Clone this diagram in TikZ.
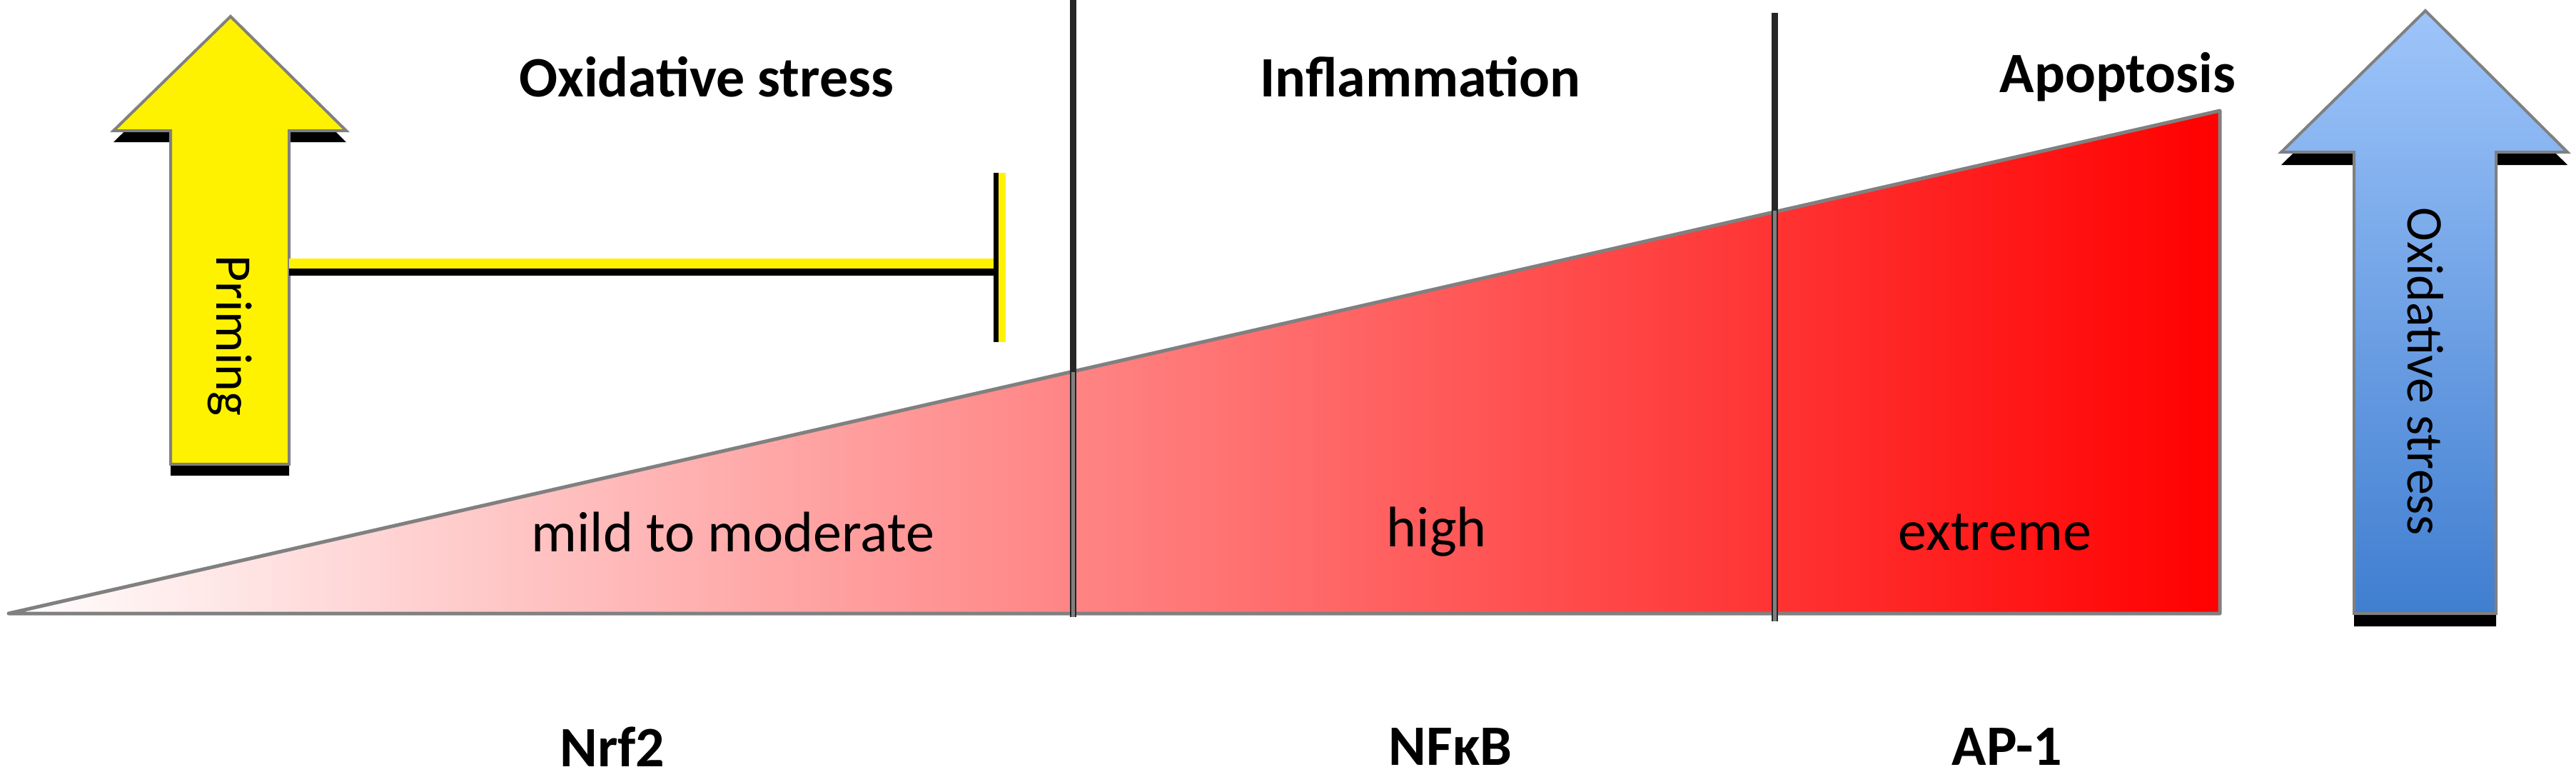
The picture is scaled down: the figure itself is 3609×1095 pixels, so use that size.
\documentclass[tikz,border=0pt]{standalone}
\usepackage{fontspec}
\setmainfont{Carlito}
\begin{document}
\begin{tikzpicture}[x=1pt,y=-1pt,
  lbl/.style={font=\fontsize{80}{90}\selectfont\bfseries,inner sep=0pt},
  lvl/.style={font=\fontsize{80}{90}\selectfont,inner sep=0pt},
  arrtxt/.style={font=\fontsize{72}{80}\selectfont,inner sep=0pt,rotate=-90},
  outl/.style={draw=gray,line width=4pt}]
\useasboundingbox (0,0) rectangle (3609,1095);
% triangle
\shade[left color=white,right color=red] (12,859) -- (3110,859) -- (3110,155) -- cycle;
\draw[gray,line width=5pt,line join=round] (12,859) -- (3110,859) -- (3110,155) -- cycle;
% dividers
\coordinate (d1t) at (1503,0); \coordinate (d1b) at (1503,864);
\coordinate (d2t) at (2486,18); \coordinate (d2b) at (2486,870);
\draw[black!85,line width=9pt] (d1t) -- (d1b);
\draw[gray,line width=5pt] (1503,521) -- (d1b);
\draw[black!85,line width=9pt] (d2t) -- (d2b);
\draw[gray,line width=5pt] (2486,295) -- (d2b);
% yellow arrow
\def\yarrow{(239,650) -- (239,183) -- (159,183) -- (323,23) -- (485,183) -- (405,183) -- (405,650) -- cycle}
\fill[black] [yshift=-16pt] \yarrow;
\fill[yellow] \yarrow;
\draw[outl,line join=miter] \yarrow;
% inhibition
\coordinate (ia) at (405,369); \coordinate (ib) at (1404,369);
\draw[black,line width=14pt] ([yshift=-10pt]ia) -- ([yshift=-10pt]ib);
\draw[yellow,line width=14pt] (ia) -- (ib);
\draw[black,line width=10pt] (1397,242) -- (1397,479);
\draw[yellow,line width=10pt] (1404,242) -- (1404,479);
% blue arrow
\def\barrow{(3298,859) -- (3298,213) -- (3196,213) -- (3398,15) -- (3597,213) -- (3497,213) -- (3497,859) -- cycle}
\fill[black] [yshift=-18pt] \barrow;
\shade[top color={rgb,255:red,158;green,197;blue,250},bottom color={rgb,255:red,64;green,126;blue,208}] \barrow;
\draw[outl] \barrow;
% texts
\node[arrtxt] (prim) at (322,470) {Priming};
\node[arrtxt] (oxs) at (3398,520) {Oxidative stress};
\node[lbl] (t1) at (990,108) {Oxidative stress};
\node[lbl] (t2) at (1990,108) {Inflammation};
\node[lbl] (t3) at (2967,108) {Apoptosis};
\node[lvl] (l1) at (1027,745) {mild to moderate};
\node[lvl] (l2) at (2013,745) {high};
\node[lvl] (l3) at (2795,745) {extreme};
\node[lbl] (n1) at (858,1046) {Nrf2};
\node[lbl] (n2) at (2032,1046) {NF\symbol{"03BA}B};
\node[lbl] (n3) at (2812,1046) {AP-1};
\end{tikzpicture}
\end{document}
